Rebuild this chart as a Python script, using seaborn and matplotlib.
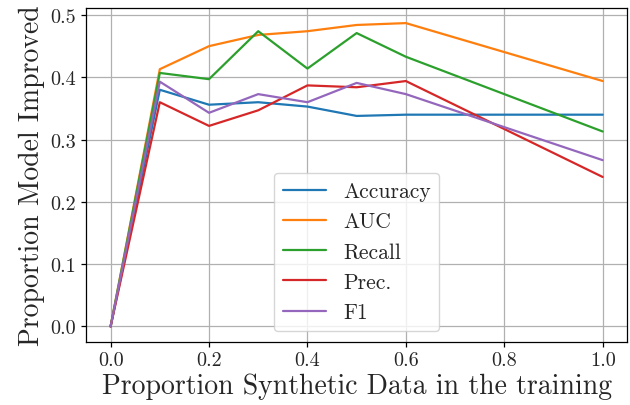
import matplotlib
matplotlib.use("Agg")
import matplotlib.pyplot as plt
import seaborn as sns
import pandas as pd

# Proportion of synthetic data mixed into the training set
proportions = [0.0, 0.1, 0.2, 0.3, 0.4, 0.5, 0.6, 1.0]

# Proportion of models improved, per metric
accuracy = [0.0, 0.380, 0.356, 0.360, 0.353, 0.338, 0.340, 0.340]
auc = [0.0, 0.413, 0.450, 0.468, 0.474, 0.484, 0.487, 0.394]
recall = [0.0, 0.407, 0.397, 0.474, 0.414, 0.471, 0.433, 0.313]
precision = [0.0, 0.360, 0.322, 0.347, 0.387, 0.384, 0.394, 0.240]
f1 = [0.0, 0.393, 0.343, 0.373, 0.360, 0.391, 0.373, 0.267]

metric_names = ["Accuracy", "AUC", "Recall", "Prec.", "F1"]
metric_values = [accuracy, auc, recall, precision, f1]

rows = []
for name, vals in zip(metric_names, metric_values):
    for p, v in zip(proportions, vals):
        rows.append({"proportion": p, "improved": v, "metric": name})
df = pd.DataFrame(rows)

sns.set_style("ticks")
plt.rcParams["font.family"] = ["cmr10", "DejaVu Serif"]
plt.rcParams["mathtext.fontset"] = "cm"
plt.rcParams["axes.formatter.use_mathtext"] = True
plt.rcParams["axes.unicode_minus"] = False

fig = plt.figure(figsize=(6.3, 4.06), dpi=100)
ax = fig.add_axes([0.1365, 0.156, 0.8592, 0.822])

sns.lineplot(data=df, x="proportion", y="improved", hue="metric",
             hue_order=metric_names, palette="tab10", linewidth=1.6, ax=ax)

ax.grid(True, color="#b0b0b0", linewidth=0.9)
ax.set_axisbelow(True)
for s in ax.spines.values():
    s.set_color("black")
    s.set_linewidth(0.9)

ax.set_xticks([0.0, 0.2, 0.4, 0.6, 0.8, 1.0])
ax.set_yticks([0.0, 0.1, 0.2, 0.3, 0.4, 0.5])
ax.set_xticklabels(["0.0", "0.2", "0.4", "0.6", "0.8", "1.0"])
ax.set_yticklabels(["0.0", "0.1", "0.2", "0.3", "0.4", "0.5"])
ax.tick_params(labelsize=14.5, length=3.5, width=0.9, color="black")

ax.set_xlabel("Proportion Synthetic Data in the training", fontsize=20, labelpad=2)
ax.set_ylabel("Proportion Model Improved", fontsize=20, labelpad=4)

leg = ax.legend(loc="lower center", fontsize=15.5, framealpha=0.8,
                edgecolor="#cccccc", fancybox=True, title=None)

fig.savefig("out.png", dpi=100)
